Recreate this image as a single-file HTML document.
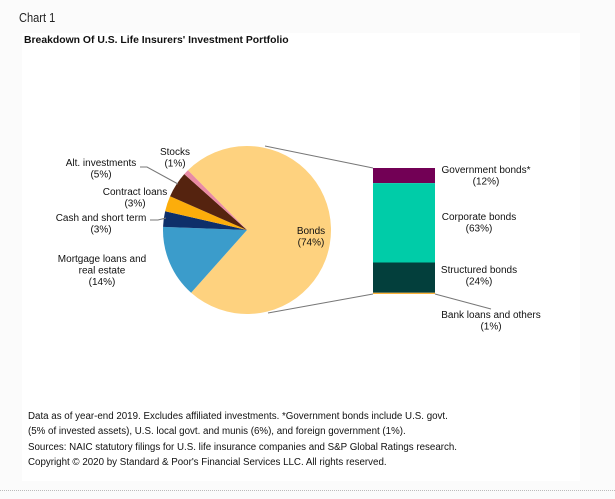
<!DOCTYPE html>
<html><head><meta charset="utf-8"><style>
body{margin:0;width:615px;height:499px;background:#fbfbfb;font-family:"Liberation Sans",sans-serif;position:relative;overflow:hidden}
#panel{position:absolute;left:22px;top:33px;width:558px;height:448px;background:#fff}
.t{position:absolute;color:#111}
#hr{position:absolute;left:0;top:490px;width:615px;border-top:1px dotted #bbb}
</style></head><body>
<div class="t" style="left:19px;top:10px;font-size:13px;color:#222;transform:scaleX(0.85);transform-origin:left">Chart 1</div>
<div id="panel"></div>
<div class="t" style="left:24px;top:35px;font-size:10.4px;font-weight:bold">Breakdown Of U.S. Life Insurers' Investment Portfolio</div>
<svg id="c" width="615" height="499" style="position:absolute;left:0;top:0"></svg>
<div class="t" style="left:28px;top:409px;font-size:9.75px;line-height:15.3px">Data as of year-end 2019. Excludes affiliated investments. *Government bonds include U.S. govt.<br>(5% of invested assets), U.S. local govt. and munis (6%), and foreign government (1%).<br>Sources: NAIC statutory filings for U.S. life insurance companies and S&amp;P Global Ratings research.<br>Copyright © 2020 by Standard &amp; Poor's Financial Services LLC. All rights reserved.</div>
<div id="hr"></div>
<script>
const pieCats=["Bonds","Mortgage loans and real estate","Cash and short term","Contract loans","Alt. investments","Stocks"];
const pieVals=[74,14,3,3,5,1];
const pieColors=["#fed27f","#3b9ccb","#0e2f6a","#fcad0b","#55230f","#e98aa4"];
const barCats=["Government bonds*","Corporate bonds","Structured bonds","Bank loans and others"];
const barVals=[12,63,24,1];
const barColors=["#720055","#00cca8","#033f3c","#fdb338"];
const svg=document.getElementById('c');const NS="http://www.w3.org/2000/svg";
function mk(t,a){const e=document.createElementNS(NS,t);for(const k in a)e.setAttribute(k,a[k]);svg.appendChild(e);return e;}
const cx=247,cy=230,r=84,start=-44.7;
const tot=pieVals.reduce((a,b)=>a+b,0);
function pt(deg,rr){const a=deg*Math.PI/180;return [cx+rr*Math.sin(a),cy-rr*Math.cos(a)];}
let ang=start;
pieVals.forEach((v,i)=>{const s=ang,e=ang+v/tot*360;ang=e;
 const p1=pt(s,r),p2=pt(e,r);
 const p=mk('path',{d:`M${cx},${cy}L${p1[0]},${p1[1]}A${r},${r} 0 ${e-s>180?1:0} 1 ${p2[0]},${p2[1]}Z`,fill:pieColors[i]});
 
 
});
const bx=373,bw=62,by=168,bh=126;const btot=barVals.reduce((a,b)=>a+b,0);
let y=by;
barVals.forEach((v,i)=>{const h=v/btot*bh;
 const rc=mk('rect',{x:bx,y:y,width:bw,height:Math.max(h,1),fill:barColors[i]});
 
 
 y+=h;});
const l1=mk('line',{x1:265,y1:146,x2:bx,y2:by,stroke:'#777','stroke-width':1});

const l2=mk('line',{x1:268,y1:313,x2:bx,y2:by+bh,stroke:'#777','stroke-width':1});

const l3=mk('line',{x1:bx+bw,y1:by+bh,x2:491,y2:309,stroke:'#777','stroke-width':1});

const l4=mk('polyline',{points:'140,167 147,167 178,184',fill:'none',stroke:'#777','stroke-width':1});

const l5=mk('polyline',{points:'150,220 158,220 166,218',fill:'none',stroke:'#777','stroke-width':1});

const labels=[
 [175,155,["Stocks","(1%)"],'label-stocks'],
 [101,166,["Alt. investments","(5%)"],'label-alt-investments'],
 [135,195,["Contract loans","(3%)"],'label-contract-loans'],
 [101,221,["Cash and short term","(3%)"],'label-cash'],
 [102,262,["Mortgage loans and","real estate","(14%)"],'label-mortgage'],
 [311,234,["Bonds","(74%)"],'label-bonds'],
 [486,173,["Government bonds*","(12%)"],'label-government-bonds'],
 [479,220,["Corporate bonds","(63%)"],'label-corporate-bonds'],
 [479,273,["Structured bonds","(24%)"],'label-structured-bonds'],
 [491,318,["Bank loans and others","(1%)"],'label-bank-loans'],
];
labels.forEach(([x,y0,lines,n])=>{const t=mk('text',{x:x,y:y0,'font-size':'10','text-anchor':'middle',fill:'#111','font-family':'Liberation Sans, sans-serif'});
 
 lines.forEach((s,i)=>{const ts=document.createElementNS(NS,'tspan');ts.setAttribute('x',x);ts.setAttribute('dy',i?11.5:0);ts.textContent=s;t.appendChild(ts);});
});
</script>
</body></html>
